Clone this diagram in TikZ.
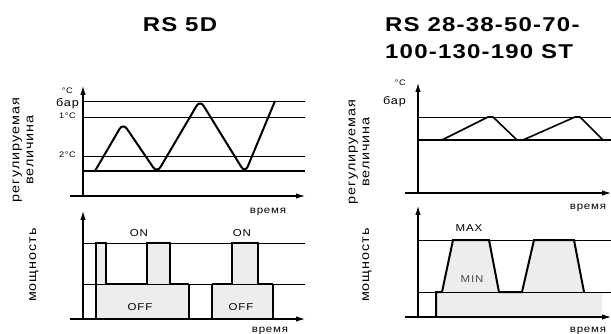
\documentclass[tikz,border=0pt]{standalone}
\usepackage{fontspec}
\setmainfont{Liberation Sans}[FakeStretch=1.15,LetterSpace=8]
\newfontfamily\ttlfont{Liberation Sans}[FakeStretch=1.2,LetterSpace=6]
\usepackage{tikz}
\usetikzlibrary{arrows.meta}
\tikzset{axis/.style={->,line width=1.1pt},
  level/.style={line width=0.7pt},
  base/.style={line width=1.8pt},
  sig/.style={line width=2pt},
  area/.style={fill=black!7},
  lbl/.style={font=\fontsize{10}{10}\selectfont,inner sep=0pt},
  deg/.style={font=\fontsize{8}{8}\selectfont,inner sep=0pt},
  unit/.style={font=\fontsize{11}{11}\selectfont,inner sep=0pt},
  vlbl/.style={font=\fontsize{12.5}{14}\selectfont,inner sep=0pt,rotate=90,align=center},
  ttl/.style={font=\fontsize{20}{20}\ttlfont\bfseries,inner sep=0pt}}

\begin{document}
\begin{tikzpicture}[>={Latex[length=9pt,width=5.5pt]},x=1pt,y=-1pt]
    \useasboundingbox (0,0) rectangle (611,334);

    % titles
    \node[ttl] (t1) at (180,25) {RS 5D};
    \node[ttl,anchor=west] (t2) at (385,25) {RS 28-38-50-70-};
    \node[ttl,anchor=west] (t3) at (385,52) {100-130-190 ST};

    % left, upper chart
    \draw [level] (83,101) -- (305,101);
    \draw [level] (83,117) -- (305,117);
    \draw [level] (83,156) -- (305,156);
    \draw [base] (83,171) -- (305,171);
    \draw [axis] (70,196) -- (305,196);
    \draw [axis] (83,197) -- (83,86);
    \draw [sig,rounded corners=7pt] (95,171) -- (123,123) -- (157,173) -- (200,100) -- (245,173) -- (275,101);
    \node[deg,anchor=east] (a1) at (73,91) {°C};
    \node[unit,anchor=east] (a2) at (79,104) {бар};
    \node[deg,anchor=east] (a3) at (76,116) {1°C};
    \node[deg,anchor=east] (a4) at (76,155) {2°C};
    \node[vlbl] (a5) at (23,150) {регулируемая\\величина};
    \node[lbl] (a6) at (268,212) {время};

    % left, lower chart
    \fill [area] (96,319) -- (96,243) -- (106,243) -- (106,284) -- (147,284) -- (147,243) -- (170,243) -- (170,284) -- (189,284) -- (189,319) -- cycle;
    \fill [area] (212,319) -- (212,284) -- (232,284) -- (232,243) -- (258,243) -- (258,284) -- (273,284) -- (273,319) -- cycle;
    \draw [level] (83,243) -- (305,243);
    \draw [level] (83,284) -- (305,284);
    \draw [sig] (96,284) -- (96,243) -- (106,243) -- (106,284) -- (147,284) -- (147,243) -- (170,243) -- (170,284) -- (189,284);
    \draw [level,line width=1.2pt] (96,284) -- (96,319);
    \draw [level,line width=1.2pt] (189,284) -- (189,319);
    \draw [level,line width=1.2pt] (212,319) -- (212,284);
    \draw [sig] (212,284) -- (232,284) -- (232,243) -- (258,243) -- (258,284) -- (273,284);
    \draw [level,line width=1.2pt] (273,284) -- (273,319);
    \draw [axis] (70,319) -- (305,319);
    \draw [axis] (83,319) -- (83,211);
    \node[lbl] (b1) at (139,233) {ON};
    \node[lbl] (b2) at (242,233) {ON};
    \node[lbl] (b3) at (140,307) {OFF};
    \node[lbl] (b4) at (241,307) {OFF};
    \node[vlbl] (b5) at (34,265) {мощность};
    \node[lbl] (b6) at (270,331) {время};

    % right, upper chart
    \draw [level] (418,117) -- (611,117);
    \draw [level,line width=1.1pt] (418,140) -- (611,140);
    \draw [axis] (405,193) -- (611,193);
    \draw [axis] (418,193) -- (418,83);
    \draw [sig,line width=1.6pt] (442,140) -- (488,117) -- (493,117) -- (517,140) -- (523,140) -- (575,117) -- (580,117) -- (603,140);
    \node[deg,anchor=east] (c1) at (406,83) {°C};
    \node[unit,anchor=east] (c2) at (406,102) {бар};
    \node[vlbl] (c3) at (359,152) {регулируемая\\величина};
    \node[lbl] (c4) at (588,208) {время};

    % right, lower chart
    \fill [area] (436,317) -- (436,292) -- (442,292) -- (453,240) -- (489,240) -- (499,292) -- (522,292) -- (534,240) -- (574,240) -- (584,292) -- (602,292) -- (602,317) -- cycle;
    \draw [level] (418,240) -- (611,240);
    \draw [level] (418,292) -- (611,292);
    \draw [sig] (436,317) -- (436,292) -- (442,292) -- (453,240) -- (489,240) -- (499,292) -- (522,292) -- (534,240) -- (574,240) -- (584,292);
    \draw [axis] (405,317) -- (611,317);
    \draw [axis] (418,317) -- (418,206);
    \node[lbl] (d1) at (469,228) {MAX};
    \node[lbl,text=black!70] (d2) at (472,279) {MIN};
    \node[vlbl] (d3) at (367,265) {мощность};
    \node[lbl] (d4) at (588,331) {время};
\end{tikzpicture}
\end{document}
